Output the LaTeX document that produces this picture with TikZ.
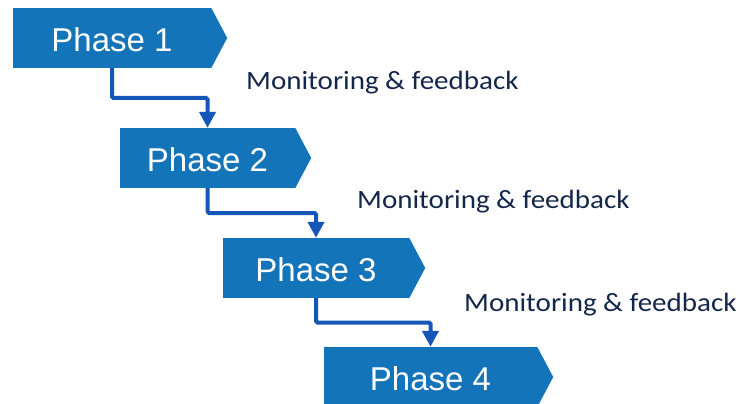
\documentclass[tikz,border=0pt]{standalone}
\usepackage{fontspec}
\usepackage{tikz}
\usetikzlibrary{calc,arrows.meta}
\newfontfamily\phasefont{Liberation Sans}
\newfontfamily\notefont[FakeStretch=1.1]{Carlito}
\definecolor{phaseblue}{HTML}{1374B9}
\definecolor{linkblue}{HTML}{1457B8}
\definecolor{notenavy}{HTML}{14274A}

\begin{document}
\begin{tikzpicture}[x=1pt,y=-1pt]
\tikzstyle{phase}=[fill=phaseblue, text=white, inner sep=0pt, minimum height=60pt, text height=27pt, text depth=0pt, font=\phasefont\fontsize{33}{33}\selectfont]
\tikzstyle{note}=[anchor=base west, inner sep=0pt, text=notenavy, font=\notefont\fontsize{26.4}{26.4}\selectfont]
\tikzstyle{link}=[linkblue, line width=4pt, rounded corners=1.5pt, -{Triangle[width=16pt,length=16pt]}]
\useasboundingbox (0,0) rectangle (742,404);
\node [phase, minimum width=198pt] (p1) at (112,38) {Phase 1};
\node [phase, minimum width=175pt] (p2) at (207.5,158) {Phase 2};
\node [phase, minimum width=186pt] (p3) at (316,268) {Phase 3};
\node [phase, minimum width=213pt] (p4) at (430.5,377) {Phase 4};
\foreach \n in {1,...,4}
  \fill [phaseblue] (p\n.north east) -- ([xshift=16pt]p\n.east) -- (p\n.south east) -- cycle;
\draw [link] (p1.south) |- ($(p1.south)!0.5!(p2.north)$) -| (p2.north);
\draw [link] (p2.south) |- ($(p2.south)!0.5!(p3.north)$) -| (p3.north);
\draw [link] (p3.south) |- ($(p3.south)!0.5!(p4.north)$) -| (p4.north);
\node [note] (m1) at (246,89) {Monitoring \& feedback};
\node [note] (m2) at (357,208) {Monitoring \& feedback};
\node [note] (m3) at (464,311) {Monitoring \& feedback};
\end{tikzpicture}
\end{document}
